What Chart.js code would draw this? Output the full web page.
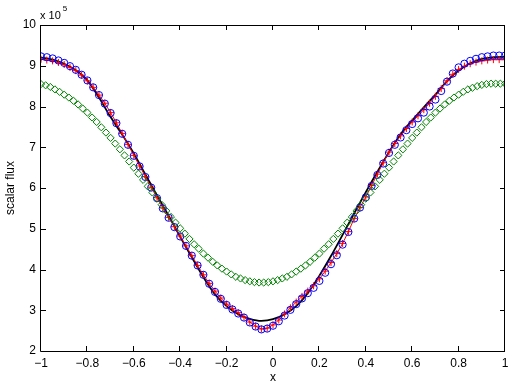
<!DOCTYPE html>
<html>
<head>
<meta charset="UTF-8">
<title>scalar flux</title>
<script src="https://cdn.jsdelivr.net/npm/chart.js@4/dist/chart.umd.min.js"></script>
<style>
  html, body { margin:0; padding:0; background:#fff; }
</style>
</head>
<body>
<canvas id="chart" width="514" height="388"></canvas>
<script>
// black solid curve
const lineX = [-1.00,-0.95,-0.90,-0.85,-0.80,-0.75,-0.70,-0.65,-0.60,-0.55,-0.50,-0.45,-0.40,-0.35,-0.30,-0.25,-0.20,-0.15,-0.10,-0.05,
  0.00,0.05,0.10,0.15,0.20,0.25,0.30,0.35,0.40,0.45,0.50,0.55,0.60,0.65,0.70,0.75,0.80,0.85,0.90,0.95,1.00];
const lineY = [9.20,9.15,9.05,8.89,8.64,8.22,7.74,7.31,6.85,6.33,5.82,5.32,4.80,4.30,3.81,3.39,3.10,2.90,2.79,2.74,
  2.78,2.90,3.10,3.42,3.85,4.33,4.85,5.38,5.90,6.40,6.88,7.32,7.66,7.98,8.29,8.62,8.88,9.06,9.17,9.21,9.22];

// blue circles and red plus share the same x positions
const markX = [-1.000,-0.975,-0.950,-0.925,-0.900,-0.875,-0.850,-0.825,-0.800,-0.775,-0.750,-0.725,-0.700,-0.675,-0.650,-0.625,
  -0.600,-0.575,-0.550,-0.525,-0.500,-0.475,-0.450,-0.425,-0.400,-0.375,-0.350,-0.325,-0.300,-0.275,-0.250,-0.225,
  -0.200,-0.175,-0.150,-0.125,-0.100,-0.075,-0.050,-0.025,0.000,0.025,0.050,0.075,0.100,0.125,0.150,0.175,
  0.200,0.225,0.250,0.275,0.300,0.325,0.350,0.375,0.400,0.425,0.450,0.475,0.500,0.525,0.550,0.575,
  0.600,0.625,0.650,0.675,0.700,0.725,0.750,0.775,0.800,0.825,0.850,0.875,0.900,0.925,0.950,0.975,1.000];
const circleY = [9.23,9.21,9.18,9.13,9.07,8.99,8.90,8.78,8.64,8.47,8.28,8.07,7.84,7.59,7.33,7.06,
  6.79,6.53,6.27,6.01,5.75,5.50,5.27,5.04,4.81,4.58,4.34,4.10,3.87,3.65,3.45,3.28,
  3.13,3.02,2.92,2.82,2.70,2.60,2.53,2.55,2.62,2.73,2.87,3.01,3.15,3.29,3.42,3.55,
  3.72,3.92,4.13,4.35,4.61,4.92,5.25,5.52,5.77,6.05,6.32,6.60,6.86,7.06,7.24,7.42,
  7.57,7.71,7.85,8.00,8.17,8.38,8.61,8.81,8.96,9.05,9.12,9.17,9.21,9.23,9.25,9.25,9.25];
const plusY = [9.16,9.14,9.12,9.08,9.03,8.96,8.88,8.77,8.63,8.47,8.28,8.08,7.85,7.60,7.34,7.07,
  6.80,6.54,6.28,6.02,5.76,5.51,5.28,5.05,4.82,4.58,4.34,4.10,3.87,3.66,3.47,3.30,
  3.15,3.04,2.94,2.83,2.71,2.61,2.54,2.56,2.64,2.76,2.91,3.06,3.20,3.34,3.47,3.60,
  3.77,3.96,4.17,4.39,4.64,4.93,5.25,5.52,5.78,6.06,6.34,6.62,6.88,7.09,7.28,7.46,
  7.62,7.77,7.92,8.08,8.25,8.44,8.63,8.79,8.91,8.99,9.05,9.09,9.12,9.14,9.15,9.15,9.15];

// green diamonds
const diamondX = [-1.00,-0.98,-0.96,-0.94,-0.92,-0.90,-0.88,-0.86,-0.84,-0.82,-0.80,-0.78,-0.76,-0.74,-0.72,-0.70,-0.68,-0.66,-0.64,-0.62,
  -0.60,-0.58,-0.56,-0.54,-0.52,-0.50,-0.48,-0.46,-0.44,-0.42,-0.40,-0.38,-0.36,-0.34,-0.32,-0.30,-0.28,-0.26,-0.24,-0.22,
  -0.20,-0.18,-0.16,-0.14,-0.12,-0.10,-0.08,-0.06,-0.04,-0.02,0.00,0.02,0.04,0.06,0.08,0.10,0.12,0.14,0.16,0.18,
  0.20,0.22,0.24,0.26,0.28,0.30,0.32,0.34,0.36,0.38,0.40,0.42,0.44,0.46,0.48,0.50,0.52,0.54,0.56,0.58,
  0.60,0.62,0.64,0.66,0.68,0.70,0.72,0.74,0.76,0.78,0.80,0.82,0.84,0.86,0.88,0.90,0.92,0.94,0.96,0.98,1.00];
const diamondY = [8.55,8.52,8.48,8.42,8.36,8.29,8.22,8.14,8.05,7.95,7.85,7.73,7.62,7.49,7.36,7.23,7.09,6.95,6.80,6.65,
  6.50,6.35,6.20,6.04,5.89,5.74,5.59,5.44,5.29,5.15,5.01,4.88,4.75,4.62,4.51,4.39,4.29,4.19,4.10,4.02,
  3.95,3.88,3.82,3.78,3.74,3.71,3.69,3.68,3.68,3.69,3.71,3.74,3.78,3.82,3.88,3.95,4.02,4.10,4.19,4.29,
  4.39,4.51,4.62,4.75,4.88,5.01,5.15,5.29,5.44,5.59,5.74,5.89,6.04,6.20,6.35,6.50,6.65,6.80,6.95,7.09,
  7.23,7.36,7.49,7.62,7.73,7.85,7.95,8.05,8.14,8.22,8.29,8.36,8.42,8.46,8.50,8.53,8.55,8.56,8.56,8.56,8.56];

const xTicks = [-1,-0.8,-0.6,-0.4,-0.2,0,0.2,0.4,0.6,0.8,1];
const yTicks = [2,3,4,5,6,7,8,9,10];

function pts(xs, ys){ return xs.map((x,i)=>({x:x, y:ys[i]})); }
function minus(v){ return String(Math.round(v*10)/10).replace('-', '\u2212'); }

const font = "'Liberation Sans', Arial, Helvetica, sans-serif";

// box around the axes with inward ticks on all four sides + the x10^5 note
const boxTicks = {
  id: 'boxTicks',
  afterDraw(chart){
    const {ctx, chartArea:a, scales} = chart;
    const sx = scales.x, sy = scales.y;
    ctx.save();
    ctx.strokeStyle = '#000';
    ctx.lineWidth = 1;
    ctx.beginPath();
    ctx.rect(Math.round(a.left)-0.5, Math.round(a.top)+0.5, Math.round(a.right-a.left), Math.round(a.bottom-a.top));
    for (const v of xTicks){
      const px = Math.round(sx.getPixelForValue(v)) - 0.5;
      ctx.moveTo(px, a.bottom); ctx.lineTo(px, a.bottom-5);
      ctx.moveTo(px, a.top); ctx.lineTo(px, a.top+5);
    }
    for (const v of yTicks){
      const py = Math.round(sy.getPixelForValue(v)) + 0.5;
      ctx.moveTo(a.left, py); ctx.lineTo(a.left+5, py);
      ctx.moveTo(a.right, py); ctx.lineTo(a.right-5, py);
    }
    ctx.stroke();
    ctx.fillStyle = '#000';
    ctx.textBaseline = 'alphabetic';
    ctx.textAlign = 'left';
    ctx.font = '11px ' + font;
    const w = ctx.measureText('x 10').width;
    ctx.fillText('x 10', a.left - 1, a.top - 6);
    ctx.font = '8px ' + font;
    ctx.fillText('5', a.left + w + 1, a.top - 14);
    ctx.restore();
  }
};

new Chart(document.getElementById('chart'), {
  type: 'scatter',
  data: {
    datasets: [
      {
        data: pts(diamondX, diamondY),
        showLine: false,
        pointStyle: 'rectRot',
        pointRadius: 3.6,
        borderColor: '#008000',
        backgroundColor: 'rgba(0,0,0,0)',
        borderWidth: 1
      },
      {
        data: pts(markX, circleY),
        showLine: false,
        pointStyle: 'circle',
        pointRadius: 3.6,
        borderColor: '#0000ff',
        backgroundColor: 'rgba(0,0,0,0)',
        borderWidth: 1
      },
      {
        data: pts(markX, plusY),
        showLine: true,
        pointStyle: 'cross',
        pointRadius: 3.5,
        borderColor: '#ff0000',
        backgroundColor: '#ff0000',
        borderWidth: 1
      },
      {
        data: pts(lineX, lineY),
        showLine: true,
        pointRadius: 0,
        borderColor: '#000000',
        borderWidth: 1.8,
        cubicInterpolationMode: 'monotone'
      }
    ]
  },
  options: {
    responsive: false,
    animation: false,
    devicePixelRatio: 1,
    layout: { padding: { left: 0, top: 25, right: 9, bottom: 0 } },
    plugins: { legend: { display: false }, tooltip: { enabled: false } },
    elements: { point: { hitRadius: 0 } },
    scales: {
      x: {
        type: 'linear', min: -1, max: 1,
        afterFit: s => { s.height = 37; },
        afterBuildTicks: s => { s.ticks = xTicks.map(v => ({value: v})); },
        grid: { display: false, drawTicks: false },
        border: { display: false },
        ticks: { color: '#000', padding: 5, maxRotation: 0, autoSkip: false,
                 font: { family: font, size: 12 }, callback: v => minus(v) },
        title: { display: true, text: 'x', color: '#000', padding: { top: 0, bottom: 3 },
                 font: { family: font, size: 12 } }
      },
      y: {
        type: 'linear', min: 2, max: 10,
        afterFit: s => { s.width = 41; },
        afterBuildTicks: s => { s.ticks = yTicks.map(v => ({value: v})); },
        grid: { display: false, drawTicks: false },
        border: { display: false },
        ticks: { color: '#000', padding: 5, autoSkip: false,
                 font: { family: font, size: 12 }, callback: v => String(v) },
        title: { display: true, text: 'scalar flux', color: '#000', padding: { top: 3, bottom: 0 },
                 font: { family: font, size: 12 } }
      }
    }
  },
  plugins: [boxTicks]
});
</script>
</body>
</html>
